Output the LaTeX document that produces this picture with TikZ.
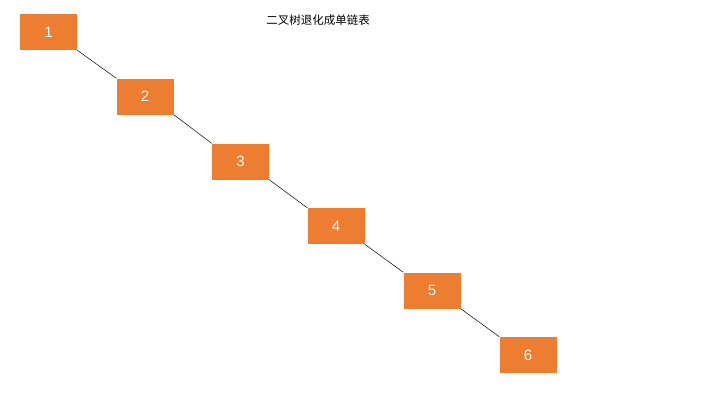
\documentclass[tikz,border=0pt]{standalone}
\usepackage{fontspec}
\setmainfont{Liberation Sans}
\newfontfamily\cjk{Noto Sans CJK SC}
\definecolor{boxor}{HTML}{ED7D31}
\begin{document}
\begin{tikzpicture}[x=1pt,y=-1pt,
  nbox/.style={fill=boxor,draw=none,minimum width=57pt,minimum height=36pt,inner sep=0pt,text=white,font=\fontsize{15}{17}\selectfont},
  link/.style={draw=black,line width=0.5pt}]
\useasboundingbox[fill=white] (0,0) rectangle (720,405);
\node[font=\cjk\fontsize{11.5}{13}\selectfont] (t) at (318,20) {二叉树退化成单链表};
\node[nbox] (n1) at (48.5,32) {1};
\node[nbox] (n2) at (145,96.5) {2};
\node[nbox] (n3) at (240.5,161.5) {3};
\node[nbox] (n4) at (336,226) {4};
\node[nbox] (n5) at (432,290.5) {5};
\node[nbox] (n6) at (528,355) {6};
\draw[link] (n1.south east) -- (n2.north west);
\draw[link] (n2.south east) -- (n3.north west);
\draw[link] (n3.south east) -- (n4.north west);
\draw[link] (n4.south east) -- (n5.north west);
\draw[link] (n5.south east) -- (n6.north west);
\end{tikzpicture}
\end{document}
